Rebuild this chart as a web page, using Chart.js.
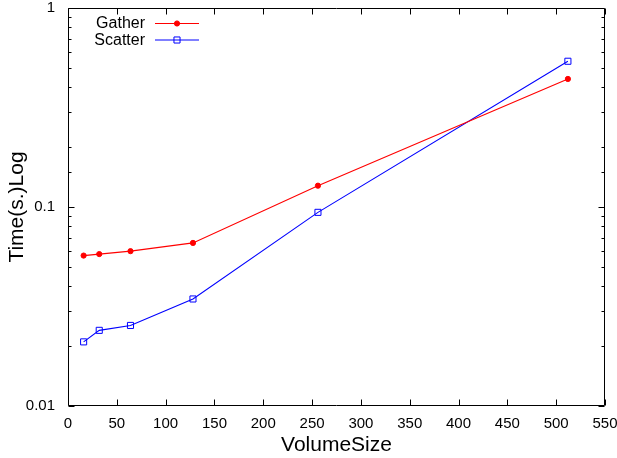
<!DOCTYPE html>
<html>
<head>
<meta charset="utf-8">
<script src="https://cdn.jsdelivr.net/npm/chart.js@4"></script>
<style>
  html, body { margin: 0; padding: 0; background: #fff; }
  #wrap { width: 617px; height: 458px; }
</style>
</head>
<body>
<div id="wrap"><canvas id="timeChart" width="617" height="458"></canvas></div>
<script>
// values
const volumeSizes = [16, 32, 64, 128, 256, 512];
const gatherTimes = [0.057, 0.058, 0.060, 0.066, 0.128, 0.44];
const scatterTimes = [0.021, 0.024, 0.0254, 0.0345, 0.094, 0.54];
const seriesNames = ['Gather', 'Scatter'];
const yTickLabels = ['0.01', '0.1', '1'];

const FONT = '"Liberation Sans", Arial, Helvetica, sans-serif';

const isDecade = v => Math.abs(Math.log10(v) - Math.round(Math.log10(v))) < 1e-9;

// gnuplot-ish frame: box border plus inward ticks on all four sides
const framePlugin = {
  id: 'frame',
  afterDatasetsDraw(chart) {
    const { ctx, chartArea: a, scales } = chart;
    const L = Math.round(a.left) + 0.5, R = Math.round(a.right) - 0.5;
    const T = Math.round(a.top) + 0.5, B = Math.round(a.bottom) - 0.5;
    ctx.save();
    ctx.strokeStyle = '#000';
    ctx.lineWidth = 1;
    ctx.beginPath();
    ctx.rect(L, T, R - L, B - T);
    ctx.stroke();

    ctx.beginPath();
    scales.x.ticks.forEach(t => {
      const px = Math.round(scales.x.getPixelForValue(t.value)) + 0.5;
      ctx.moveTo(px, B); ctx.lineTo(px, B - 6);
      ctx.moveTo(px, T); ctx.lineTo(px, T + 6);
    });
    scales.y.ticks.forEach(t => {
      const py = Math.round(scales.y.getPixelForValue(t.value)) + 0.5;
      const len = isDecade(t.value) ? 6 : 3;
      ctx.moveTo(L, py); ctx.lineTo(L + len, py);
      ctx.moveTo(R, py); ctx.lineTo(R - len, py);
    });
    ctx.stroke();
    ctx.restore();
  }
};

// key in the top-left corner: right-aligned text, then line sample with marker
const keyPlugin = {
  id: 'key',
  afterDraw(chart) {
    const { ctx } = chart;
    const rows = [23, 39.5];
    ctx.save();
    ctx.font = '16px ' + FONT;
    ctx.textAlign = 'right';
    ctx.textBaseline = 'middle';
    chart.data.datasets.forEach((ds, i) => {
      const y = rows[i];
      ctx.fillStyle = '#000';
      ctx.fillText(ds.label, 145, y + 1);
      ctx.strokeStyle = ds.borderColor;
      ctx.lineWidth = 1;
      ctx.beginPath();
      ctx.moveTo(155, y + 0.5); ctx.lineTo(199, y + 0.5);
      ctx.stroke();
      ctx.fillStyle = ds.pointBackgroundColor;
      ctx.strokeStyle = ds.pointBorderColor;
      Chart.helpers.drawPoint(ctx, {
        pointStyle: ds.pointStyle,
        radius: ds.pointRadius,
        borderWidth: 1
      }, 177, y + 0.5);
    });
    ctx.restore();
  }
};

const ctx = document.getElementById('timeChart').getContext('2d');
new Chart(ctx, {
  type: 'line',
  data: {
    datasets: [
      {
        label: seriesNames[0],
        data: volumeSizes.map((v, i) => ({ x: v, y: gatherTimes[i] })),
        borderColor: '#ff0000',
        borderWidth: 1.1,
        pointStyle: 'circle',
        pointRadius: 2.6,
        pointBackgroundColor: '#ff0000',
        pointBorderColor: '#ff0000',
        pointBorderWidth: 1,
        tension: 0,
        fill: false
      },
      {
        label: seriesNames[1],
        data: volumeSizes.map((v, i) => ({ x: v, y: scatterTimes[i] })),
        borderColor: '#0000ff',
        borderWidth: 1.1,
        pointStyle: 'rect',
        pointRadius: 4.3,
        pointBackgroundColor: 'rgba(0,0,0,0)',
        pointBorderColor: '#0000ff',
        pointBorderWidth: 1,
        tension: 0,
        fill: false
      }
    ]
  },
  options: {
    responsive: false,
    animation: false,
    events: [],
    layout: { padding: { top: 8, right: 12, left: 0, bottom: 0 } },
    plugins: {
      legend: { display: false },
      tooltip: { enabled: false }
    },
    scales: {
      x: {
        type: 'linear',
        min: 0,
        max: 550,
        border: { display: false },
        grid: { display: false, drawTicks: false },
        ticks: {
          stepSize: 50,
          padding: 9,
          color: '#000',
          maxRotation: 0,
          autoSkip: false,
          font: { family: FONT, size: 15 }
        },
        title: {
          display: true,
          text: 'VolumeSize',
          color: '#000',
          padding: { top: 0, bottom: 0 },
          font: { family: FONT, size: 21 }
        },
        afterFit(scale) {
          scale.height = 52;
          scale.paddingLeft = 0;
          scale.paddingRight = 0;
        }
      },
      y: {
        type: 'logarithmic',
        min: 0.01,
        max: 1,
        border: { display: false },
        grid: { display: false, drawTicks: false },
        ticks: {
          padding: 13,
          color: '#000',
          autoSkip: false,
          font: { family: FONT, size: 15 },
          callback: v => isDecade(v) ? yTickLabels[Math.round(Math.log10(v)) + 2] : ''
        },
        title: {
          display: true,
          text: 'Time(s.)Log',
          color: '#000',
          padding: { top: 5, bottom: 0 },
          font: { family: FONT, size: 21 }
        },
        afterFit(scale) {
          scale.width = 68;
          scale.paddingTop = 0;
          scale.paddingBottom = 0;
        }
      }
    }
  },
  plugins: [framePlugin, keyPlugin]
});
</script>
</body>
</html>
